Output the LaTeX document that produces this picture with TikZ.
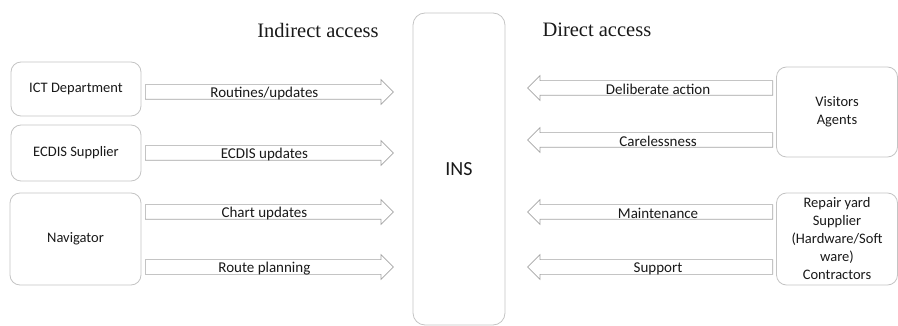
\documentclass[tikz,border=0pt]{standalone}
\usepackage{fontspec}
\setmainfont{Carlito}
\newfontfamily\headfont{Liberation Serif}
\usetikzlibrary{shapes.arrows,positioning,calc}
\definecolor{boxgray}{RGB}{196,196,196}
\definecolor{arrgray}{RGB}{165,165,165}
\definecolor{txt}{RGB}{25,25,25}

\begin{document}
\begin{tikzpicture}[x=1pt,y=-1pt,
	box/.style={draw=boxgray,rounded corners=10pt,line width=0.8pt,align=center,text=txt,
		font=\fontsize{14.5}{18}\selectfont,inner sep=1pt},
	barrow/.style={single arrow,draw=arrgray,fill=white,line width=0.7pt,inner sep=7pt,
		single arrow head extend=5pt,anchor=tail},
	lbl/.style={text=txt,font=\fontsize{15}{16}\selectfont,inner sep=0pt},
	head/.style={text=txt,font=\headfont\fontsize{20.5}{22}\selectfont}]
\useasboundingbox (0,0) rectangle (898,326);

% sources on the left
\node [box,minimum width=130pt,minimum height=54pt] (ict) at (76,89) {ICT Department};
\node [box,minimum width=130pt,minimum height=56pt] (ecdis) at (76,153) {ECDIS Supplier};
\node [box,minimum width=131pt,minimum height=92pt] (nav) at (75.5,239) {Navigator};

% the system
\node [box,minimum width=92pt,minimum height=312pt,rounded corners=12pt,
	font=\fontsize{20}{20}\selectfont] (ins) at (459,169) {INS};

% sources on the right
\node [box,minimum width=121pt,minimum height=90pt] (vis) at (837,112) {Visitors\\Agents};
\node [box,minimum width=121pt,minimum height=92pt] (rep) at (837,239)
	{Repair yard\\Supplier\\(Hardware/Soft\\ware)\\Contractors};

% titles
\node [head] (ind) at (318,30) {Indirect access};
\node [head,anchor=west] (dir) at (539,30) {Direct access};

% indirect access arrows
\node [barrow,minimum height=248pt] (a1) at (145,92) {};
\node [barrow,minimum height=248pt] (a2) at (145,153) {};
\node [barrow,minimum height=248pt] (a3) at (145,212) {};
\node [barrow,minimum height=248pt] (a4) at (145,267) {};

% direct access arrows
\node [barrow,shape border rotate=180,minimum height=245pt] (b1) at (773,88) {};
\node [barrow,shape border rotate=180,minimum height=245pt] (b2) at (773,140) {};
\node [barrow,shape border rotate=180,minimum height=245pt] (b3) at (773,212) {};
\node [barrow,shape border rotate=180,minimum height=245pt] (b4) at (773,267) {};

% labels
\node [lbl] at ($(a1.tail)!0.5!(a1.tip)+(-5,1.5)$) {Routines/updates};
\node [lbl] at ($(a2.tail)!0.5!(a2.tip)+(-5,1.5)$) {ECDIS updates};
\node [lbl] at ($(a3.tail)!0.5!(a3.tip)+(-5,1.5)$) {Chart updates};
\node [lbl] at ($(a4.tail)!0.5!(a4.tip)+(-5,1.5)$) {Route planning};
\node [lbl] at ($(b1.tail)!0.5!(b1.tip)+(8,1.5)$) {Deliberate action};
\node [lbl] at ($(b2.tail)!0.5!(b2.tip)+(8,1.5)$) {Carelessness};
\node [lbl] at ($(b3.tail)!0.5!(b3.tip)+(8,1.5)$) {Maintenance};
\node [lbl] at ($(b4.tail)!0.5!(b4.tip)+(8,1.5)$) {Support};
\end{tikzpicture}
\end{document}
